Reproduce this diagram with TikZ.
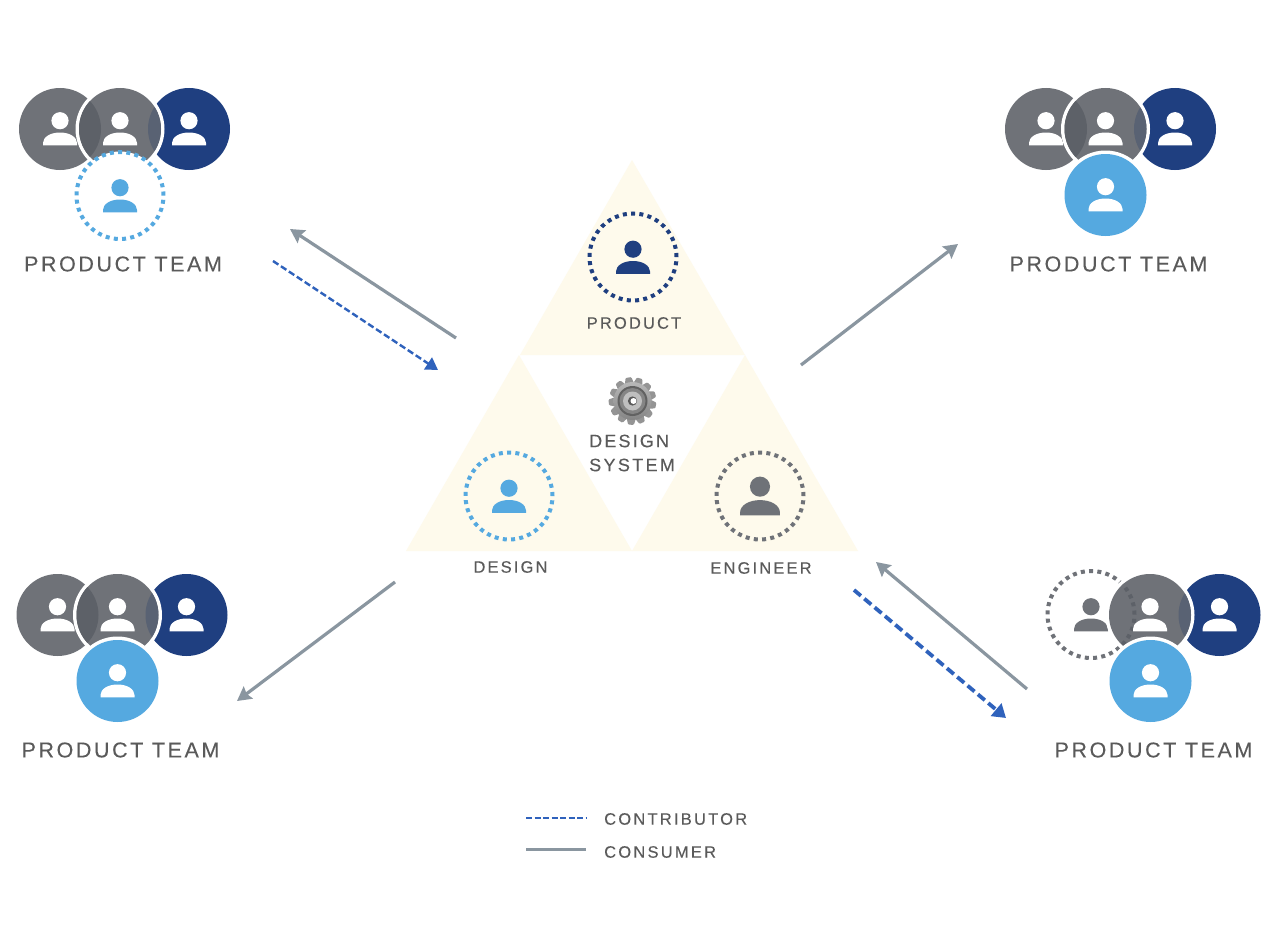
\documentclass[tikz,border=0pt]{standalone}
\usepackage{fontspec}
\setmainfont{Liberation Sans}
\newfontfamily\lblfont[LetterSpace=12,FakeBold=0.12]{Liberation Sans}
\newfontfamily\lblfontb[LetterSpace=13,FakeBold=0.15]{Liberation Sans}
\newfontfamily\lblfontd[LetterSpace=12,FakeBold=0.15]{Liberation Sans}
\newfontfamily\lblfontc[LetterSpace=13.5,FakeBold=0.15]{Liberation Sans}
\usetikzlibrary{arrows.meta}
\definecolor{gbase}{HTML}{6F7278}
\definecolor{glens}{HTML}{5D6168}
\definecolor{nbase}{HTML}{1F3F80}
\definecolor{nlens}{HTML}{596273}
\definecolor{bbase}{HTML}{55A9E0}
\definecolor{cream}{HTML}{FEFAEC}
\definecolor{txt}{HTML}{5A5A5A}
\definecolor{consum}{HTML}{8A96A0}
\definecolor{contrib}{HTML}{2F62BC}
\tikzset{
  teamlabel/.style={text=txt,font=\lblfont\fontsize{21.5}{24}\selectfont,inner sep=0pt},
  rolelabel/.style={text=txt,font=\lblfontb\fontsize{16.5}{20}\selectfont,inner sep=0pt},
  dotring/.style={line width=4pt,dash pattern=on 4pt off 4.28pt},
  consumerline/.style={draw=consum,line width=3.2pt,-{Stealth[length=14pt,width=15pt,inset=2pt]}},
  contriba/.style={draw=contrib,line width=2.4pt,dash pattern=on 6.5pt off 3pt,-{Triangle[length=12pt,width=14pt]}},
  contribb/.style={draw=contrib,line width=3.8pt,dash pattern=on 9pt off 4.5pt,-{Triangle[length=13pt,width=16pt]}},
}
% person glyph: #1 centre x, #2 centre y, #3 scale, #4 colour
\newcommand{\persona}[4]{%
  \begin{scope}[shift={(#1,#2)},scale=#3]
    \fill[#4] (0,-8.3) circle[radius=8.6pt];
    \fill[#4] (-17,16.3) -- (17,16.3) -- (17,14) .. controls (17,8) and (9.5,3.5) .. (0,3.5)
      .. controls (-9.5,3.5) and (-17,8) .. (-17,14) -- cycle;
  \end{scope}}
\newcommand{\middlenavy}[4]{%
  \fill[nbase] (#3,#4) circle[radius=41pt];
  \fill[white] (#2,#4) circle[radius=44.5pt];
  \fill[gbase] (#2,#4) circle[radius=41pt];
  \begin{scope}
    \clip (#2,#4) circle[radius=41pt];
    \fill[nlens] (#3,#4) circle[radius=41pt];
  \end{scope}}
\newcommand{\leftlens}[3]{%
  \begin{scope}
    \clip (#2,#3) circle[radius=41pt];
    \fill[glens] (#1,#3) circle[radius=41pt];
  \end{scope}}
\newcommand{\bluefront}[2]{%
  \fill[white] (#1,#2) circle[radius=44.5pt];
  \fill[bbase] (#1,#2) circle[radius=41pt];
  \persona{#1}{#2}{1}{white}}
\begin{document}
\begin{tikzpicture}[x=1pt,y=-1pt]
\useasboundingbox (0,0) rectangle (1288,934);
\fill[white] (0,0) rectangle (1288,934);

% triangles
\fill[cream] (632,160) -- (745,355) -- (520,355) -- cycle;
\fill[cream] (519,355) -- (632,551) -- (406,551) -- cycle;
\fill[cream] (745,355) -- (858,551) -- (632,551) -- cycle;

% role circles
\draw[nbase,dotring] (633,257) circle[radius=43.5pt];
\persona{633}{257.5}{1}{nbase}
\draw[bbase,dotring] (509,496) circle[radius=43.5pt];
\persona{509}{496.5}{1}{bbase}
\draw[gbase,dotring] (760,496) circle[radius=43.5pt];
\begin{scope}[shift={(760,496)},scale=1.17]
  \fill[gbase] (0,-8) circle[radius=8.6pt];
  \fill[gbase] (-17,16.5) -- (17,16.5) -- (17,14) .. controls (17,8) and (9.5,3.5) .. (0,3.5)
    .. controls (-9.5,3.5) and (-17,8) .. (-17,14) -- cycle;
\end{scope}

% gear
\begin{scope}[shift={(632.5,401)}]
  \foreach \a in {10,37.69,...,350}{
    \fill[black!42,rotate=\a,rounded corners=1pt] (-4.6,-17.5) -- (-2.9,-23.8) -- (2.9,-23.8) -- (4.6,-17.5) -- cycle;
  }
  \shade[top color=black!28,bottom color=black!48] (0,0) circle[radius=19pt];
  \fill[black!62] (0,0) circle[radius=15pt];
  \fill[black!48] (0,0) circle[radius=13pt];
  \fill[black!25] (0,0) circle[radius=9.5pt];
  \fill[black!65] (0,0) circle[radius=4.6pt];
  \fill[white] (1,0) circle[radius=3pt];
\end{scope}

% top-left team
\fill[gbase] (60,129) circle[radius=41pt];
\middlenavy{60}{120}{189}{129}
\leftlens{60}{120}{129}
\persona{60}{129}{1}{white}
\persona{120}{129}{1}{white}
\persona{189}{129}{1}{white}
\fill[white] (120,195.5) circle[radius=44pt];
\draw[bbase,dotring] (120,195.5) circle[radius=43.5pt];
\persona{120}{196}{1}{bbase}

% top-right team
\fill[gbase] (1046,129) circle[radius=41pt];
\middlenavy{1046}{1105.5}{1175}{129}
\leftlens{1046}{1105.5}{129}
\persona{1046}{129}{1}{white}
\persona{1105.5}{129}{1}{white}
\persona{1175}{129}{1}{white}
\bluefront{1105.5}{195}

% bottom-left team
\fill[gbase] (57.5,615) circle[radius=41pt];
\middlenavy{57.5}{117.5}{186.5}{615}
\leftlens{57.5}{117.5}{615}
\persona{57.5}{615}{1}{white}
\persona{117.5}{615}{1}{white}
\persona{186.5}{615}{1}{white}
\bluefront{117.5}{681}

% bottom-right team
\draw[gbase,dotring] (1091,614.5) circle[radius=43.5pt];
\persona{1091}{615}{1}{gbase}
\middlenavy{1091}{1150}{1219.5}{615}
\begin{scope}
  \clip (1150,615) circle[radius=41pt];
  \draw[glens,dotring] (1091,614.5) circle[radius=43.5pt];
\end{scope}
\persona{1150}{615}{1}{white}
\persona{1219.5}{615}{1}{white}
\bluefront{1150.5}{681}

% labels
\node[teamlabel] (tl) at (123,264) {PRODUCT TEAM};
\node[teamlabel] (tr) at (1108.5,264) {PRODUCT TEAM};
\node[teamlabel] (bl) at (120.5,750) {PRODUCT TEAM};
\node[teamlabel] (br) at (1153.5,750) {PRODUCT TEAM};
\node[rolelabel] (prod) at (634,323) {PRODUCT};
\node[rolelabel] (des) at (510.5,567) {DESIGN};
\node[rolelabel] (eng) at (761,568) {ENGINEER};
\node[rolelabel,anchor=west,font=\lblfontd\fontsize{18}{20}\selectfont] (ds1) at (589,441) {DESIGN};
\node[rolelabel,anchor=west,font=\lblfontb\fontsize{18}{20}\selectfont] (ds2) at (589,465) {SYSTEM};
\node[rolelabel,anchor=west,font=\lblfontc\fontsize{16.5}{20}\selectfont] (lg1) at (604,819) {CONTRIBUTOR};
\node[rolelabel,anchor=west,font=\lblfontc\fontsize{16.5}{20}\selectfont] (lg2) at (604,852) {CONSUMER};

% connector ends
\coordinate (a1s) at (456,338); \coordinate (a1e) at (290,229);
\coordinate (a2s) at (273,261); \coordinate (a2e) at (438,370);
\coordinate (a3s) at (801,365); \coordinate (a3e) at (958,244);
\coordinate (a4s) at (395,582); \coordinate (a4e) at (237,701);
\coordinate (a5s) at (1027,689); \coordinate (a5e) at (876,562);
\coordinate (a6s) at (854,590); \coordinate (a6e) at (1006,718);
\coordinate (l1s) at (526,818); \coordinate (l1e) at (586,818);
\coordinate (l2s) at (526,849); \coordinate (l2e) at (586,849);

\draw[consumerline] (a1s) -- (a1e);
\draw[contriba] (a2s) -- (a2e);
\draw[consumerline] (a3s) -- (a3e);
\draw[consumerline] (a4s) -- (a4e);
\draw[consumerline] (a5s) -- (a5e);
\draw[contribb] (a6s) -- (a6e);
\draw[draw=contrib,line width=2.5pt,dash pattern=on 6pt off 2.5pt] (l1s) -- (l1e);
\draw[draw=consum,line width=3pt] (l2s) -- (l2e);
\end{tikzpicture}
\end{document}
